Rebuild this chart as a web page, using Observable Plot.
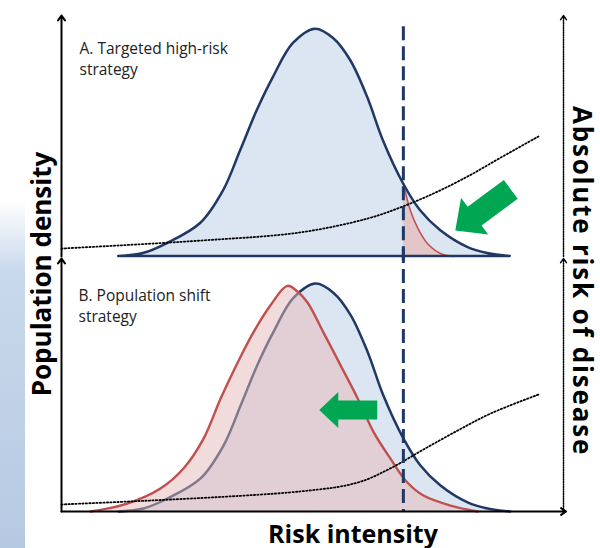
<!DOCTYPE html>
<html><head><meta charset="utf-8">
<script src="https://cdn.jsdelivr.net/npm/d3@7"></script>
<script src="https://cdn.jsdelivr.net/npm/@observablehq/plot@0.6"></script>
<style>
html,body{margin:0;padding:0;background:#fff;}
#wrap{position:relative;width:600px;height:548px;overflow:hidden;font-family:"Open Sans",Lato,sans-serif;}
#wrap svg{position:absolute;left:0;}
.strip{position:absolute;left:0;top:200px;width:25px;height:348px;background:linear-gradient(to bottom, rgba(200,216,236,0), #c9d9ec 20%, #b6c9e2);}
.lab{position:absolute;font-weight:700;color:#000;white-space:nowrap;line-height:1;font-family:"Open Sans",Lato,sans-serif;}
</style></head><body><div id="wrap"><div class="strip"></div></div>
<script>
// Baseline population distribution (risk intensity vs density, peak = 100)
const blueX = [11.4, 16.3, 21.1, 27.7, 32.3, 35.7, 39.0, 42.2, 46.2, 50.6, 54.2, 57.6, 61.0, 64.1, 68.1, 71.5, 75.5, 80.9, 84.9, 89.4];
const blueY = [0, 1.3, 5.7, 14.5, 29.0, 46.6, 64.2, 78.7, 93.7, 100, 95.9, 86.2, 69.9, 51.0, 32.1, 20.2, 11.4, 4.0, 1.3, 0];
// Shifted population distribution (panel B)
const shiftX = [5.8, 13.1, 19.7, 24.3, 28.3, 31.7, 35.1, 38.2, 41.6, 45.0, 47.0, 49.0, 52.2, 55.6, 59.0, 62.2, 65.5, 68.9, 72.1, 77.5, 82.9];
const shiftY = [0, 3.5, 10.1, 18.9, 32.0, 49.6, 65.4, 78.5, 90.4, 99.0, 96.5, 91.7, 78.5, 64.1, 49.6, 34.7, 23.3, 12.7, 7.0, 2.6, 0];
// High-risk tail after targeted intervention (panel A)
const tailX = [68.1, 69.5, 70.9, 72.9, 75.5, 78.1];
const tailY = [32.1, 20.2, 12.8, 5.7, 1.3, 0];
// Absolute risk of disease (dotted)
const riskAX = [0, 27.7, 47.6, 61.0, 67.5, 74.1, 80.9, 87.5, 95.0];
const riskAY = [3.5, 7.0, 10.6, 16.7, 21.6, 27.7, 35.2, 43.5, 52.8];
const riskBX = [0, 47.6, 59.0, 65.5, 72.1, 78.9, 85.5, 95.0];
const riskBY = [3.1, 8.8, 12.7, 18.9, 27.2, 35.5, 43.0, 51.3];
// High-risk threshold
const threshold = 68.1;
// Green shift arrows: tail position (data units)
const arrowA = {x: 89.5, y: 29.5};
const arrowB = {x: 62.9, y: 44.5};
// Texts
const panelLabels = ["A. Targeted high-risk\nstrategy", "B. Population shift\nstrategy"];
const xLabel = "Risk intensity";
const yLabel = "Population density";
const y2Label = "Absolute risk of disease";

const pts = (xs, ys) => xs.map((x, i) => ({x, y: ys[i]}));
const blue = pts(blueX, blueY), shift = pts(shiftX, shiftY), tail = pts(tailX, tailY);
const riskA = pts(riskAX, riskAY), riskB = pts(riskBX, riskBY);

const NAVY = "#1f3864", FILLBLUE = "#dce6f2", RED = "#c0504d", PINK = "#e6b8b7", GREEN = "#00a651";
const curve = "catmull-rom";
const DOTS = {stroke: "#000", strokeWidth: 1.8, strokeDasharray: "1.3 2.2"};

const blockArrow = (sw, hw, hl) => ({
  draw(context, l) {
    context.moveTo(-sw, 0);
    context.lineTo(-sw, -(l - hl));
    context.lineTo(-hw, -(l - hl));
    context.lineTo(0, -l);
    context.lineTo(hw, -(l - hl));
    context.lineTo(sw, -(l - hl));
    context.lineTo(sw, 0);
    context.closePath();
  }
});

const common = {width: 600, marginLeft: 61, marginRight: 37, x: {domain: [0, 100], axis: null},
  style: {background: "transparent", overflow: "visible"}};
const labelFont = {fontSize: 15.5, lineHeight: 1.38, fill: "#222", fontFamily: "'Open Sans', Lato, sans-serif"};

const plotA = Plot.plot({
  ...common, height: 260, marginTop: 15, marginBottom: 4,
  y: {domain: [0, 106], axis: null},
  marks: [
    Plot.areaY(blue, {x: "x", y: "y", curve, fill: FILLBLUE}),
    Plot.areaY(tail, {x: "x", y: "y", curve, fill: PINK, fillOpacity: 0.7}),
    Plot.lineY(tail, {x: "x", y: "y", curve, stroke: RED, strokeWidth: 1.5}),
    Plot.areaY(blue, {x: "x", y: "y", curve, fill: "none", stroke: NAVY, strokeWidth: 2.5}),
    Plot.line(riskA, {x: "x", y: "y", curve, ...DOTS}),
    Plot.ruleX([threshold], {y1: 101, y2: -2, stroke: NAVY, strokeWidth: 3, strokeDasharray: "14 6"}),
    Plot.arrow([{x1: 0, y1: 0, x2: 0, y2: 106}], {x1: "x1", y1: "y1", x2: "x2", y2: "y2", stroke: "#000", strokeWidth: 2, headLength: 4.5, headAngle: 70}),
    Plot.arrow([{x1: 100, y1: 0, x2: 100, y2: 106}], {x1: "x1", y1: "y1", x2: "x2", y2: "y2", stroke: "#000", strokeWidth: 1.5, headLength: 5, headAngle: 70, strokeDasharray: "1.2 1.2"}),
    Plot.vector([arrowA], {x: "x", y: "y", length: 69, rotate: 233.5, anchor: "start", shape: blockArrow(11.7, 22.8, 24), fill: GREEN, stroke: "none"}),
    Plot.text([panelLabels[0]], {frameAnchor: "top-left", dx: 18, dy: 23, lineAnchor: "top", textAnchor: "start", ...labelFont})
  ]
});
plotA.style.top = "0px";

const plotB = Plot.plot({
  ...common, height: 300, marginTop: 10, marginBottom: 37,
  y: {domain: [0, 111], axis: null},
  marks: [
    Plot.areaY(blue, {x: "x", y: "y", curve, fill: FILLBLUE}),
    Plot.lineY(blue, {x: "x", y: "y", curve, stroke: NAVY, strokeWidth: 2.5}),
    Plot.areaY(shift, {x: "x", y: "y", curve, fill: PINK, fillOpacity: 0.5}),
    Plot.lineY(shift, {x: "x", y: "y", curve, stroke: RED, strokeWidth: 2.4}),
    Plot.line(riskB, {x: "x", y: "y", curve, ...DOTS}),
    Plot.ruleX([threshold], {y1: 115, y2: 0, stroke: NAVY, strokeWidth: 3, strokeDasharray: "14 6"}),
    Plot.arrow([{x1: 0, y1: 0, x2: 0, y2: 111}], {x1: "x1", y1: "y1", x2: "x2", y2: "y2", stroke: "#000", strokeWidth: 2, headLength: 4.5, headAngle: 70}),
    Plot.arrow([{x1: 0, y1: 0, x2: 100.5, y2: 0}], {x1: "x1", y1: "y1", x2: "x2", y2: "y2", stroke: "#000", strokeWidth: 2, headLength: 4.5, headAngle: 70}),
    Plot.arrow([{x1: 100, y1: 0, x2: 100, y2: 111}], {x1: "x1", y1: "y1", x2: "x2", y2: "y2", stroke: "#000", strokeWidth: 1.5, headLength: 5, headAngle: 70, strokeDasharray: "1.2 1.2"}),
    Plot.vector([arrowB], {x: "x", y: "y", length: 58, rotate: 270, anchor: "start", shape: blockArrow(9.5, 18, 19), fill: GREEN, stroke: "none"}),
    Plot.text([panelLabels[1]], {frameAnchor: "top-left", dx: 17, dy: 27, lineAnchor: "top", textAnchor: "start", ...labelFont})
  ]
});
plotB.style.top = "248px";

const wrap = document.getElementById("wrap");
wrap.appendChild(plotA);
wrap.appendChild(plotB);

function label(text, left, top, rot, size, spacing) {
  const d = document.createElement("div");
  d.className = "lab";
  d.textContent = text;
  d.style.fontSize = size + "px";
  d.style.letterSpacing = spacing + "px";
  d.style.left = left + "px";
  d.style.top = top + "px";
  d.style.transform = `translate(-50%,-50%) rotate(${rot}deg)`;
  wrap.appendChild(d);
}
label(xLabel, 353, 533, 0, 25, 0);
label(yLabel, 41, 274, -90, 26, 0);
label(y2Label, 583, 281, 90, 26, 1.8);
</script></body></html>
